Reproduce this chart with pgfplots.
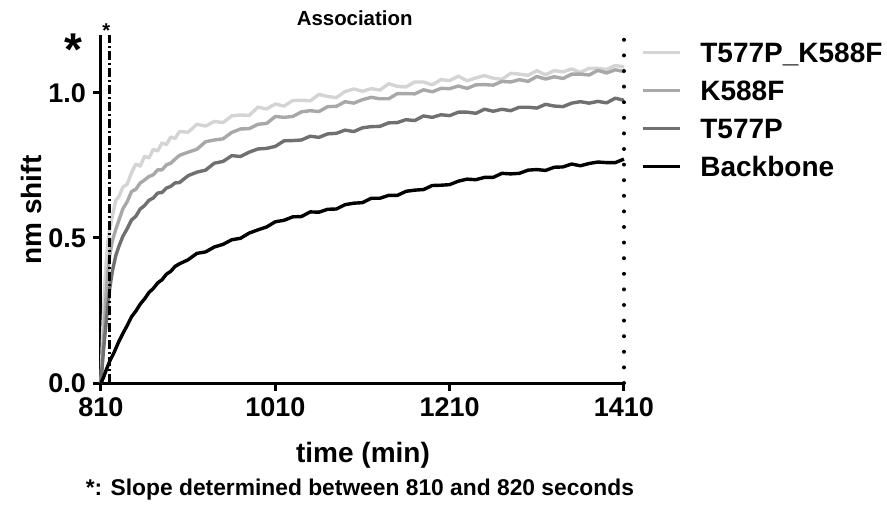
\documentclass[border=0pt]{standalone}
\usepackage{fontspec}
\setmainfont{Liberation Sans}
\usepackage{pgfplots}
\pgfplotsset{compat=1.18}
\definecolor{cTK}{gray}{0.83}
\definecolor{cK}{gray}{0.66}
\definecolor{cT}{gray}{0.44}

\begin{document}
\begin{tikzpicture}
\begin{axis}[
    name=ax,
    scale only axis,
    width=261.5pt, height=174pt,
    xmin=810, xmax=1410, ymin=0, ymax=1.2,
    axis x line=bottom, axis y line=left,
    axis line style={line width=1.5pt, -},
    xtick={810,1010,1210,1410},
    ytick={0,0.5,1.0},
    tick align=outside, major tick length=4pt,
    tick style={line width=1.5pt, black},
    /pgf/number format/assume math mode=true,
    xticklabel style={font=\bfseries\fontsize{13.5}{13.5}\selectfont},
    yticklabel style={font=\bfseries\fontsize{13.5}{13.5}\selectfont,
        /pgf/number format/fixed, /pgf/number format/fixed zerofill,
        /pgf/number format/precision=1},
    scaled y ticks=false,
    xticklabel={\pgfmathprintnumber[1000 sep={}]{\tick}},
    xlabel={time (min)}, ylabel={nm shift},
    xlabel style={font=\bfseries\fontsize{14}{14}\selectfont, at={(axis description cs:0.501,-0.207)}, anchor=center},
    ylabel style={font=\bfseries\fontsize{14}{14}\selectfont, at={(axis description cs:-0.132,0.497)}, anchor=center, rotate=0},
    clip=false,
    legend style={draw=none, fill=none, at={(axis description cs:1.021,0.99)}, anchor=north west,
        font=\bfseries\fontsize{14}{14}\selectfont, row sep=9pt, column sep=9.5pt,
        nodes={inner sep=0pt, text height=10pt, text depth=0pt}},
    legend cell align=left,
    legend image code/.code={\draw[#1, line width=1.5pt] (0pt,0pt) -- (18.5pt,0pt);},
    every axis plot/.append style={line width=1.7pt, line join=round},
]
% T577P_K588F
\addplot[cTK] coordinates {
(810,0) (812,0.18) (814,0.32) (816,0.42) (818,0.49) (820,0.53) (823,0.575) (827,0.63)
(831,0.645) (835,0.675) (840,0.685) (845,0.725) (850,0.755) (855,0.748) (860,0.782)
(865,0.776) (870,0.806) (875,0.80) (880,0.828) (885,0.822) (890,0.848) (895,0.843)
(900,0.867) (910,0.865) (920,0.892) (930,0.886) (940,0.902) (950,0.898) (960,0.921)
(970,0.924) (980,0.923) (990,0.951) (1000,0.945) (1010,0.962) (1020,0.955) (1030,0.974)
(1040,0.975) (1050,0.973) (1060,0.995) (1070,0.988) (1080,0.984) (1090,1.005) (1100,1.014)
(1110,1.006) (1120,1.015) (1130,1.010) (1140,1.032) (1150,1.023) (1160,1.021) (1170,1.038)
(1180,1.038) (1190,1.028) (1200,1.046) (1210,1.043) (1220,1.058) (1230,1.042) (1240,1.052)
(1250,1.060) (1260,1.051) (1270,1.047) (1280,1.068) (1290,1.065) (1300,1.061) (1310,1.077)
(1320,1.063) (1330,1.077) (1340,1.073) (1350,1.083) (1360,1.071) (1370,1.085) (1380,1.085)
(1390,1.081) (1400,1.095) (1410,1.090)
};
\addlegendentry{T577P\_K588F}
% K588F
\addplot[cK] coordinates {
(810,0) (812,0.10) (814,0.20) (816,0.31) (818,0.39) (820,0.44) (823,0.49) (827,0.53)
(831,0.565) (835,0.60) (840,0.625) (845,0.66) (850,0.668) (855,0.69) (860,0.70)
(865,0.712) (870,0.718) (875,0.735) (880,0.735) (885,0.752) (890,0.758) (895,0.772)
(900,0.785) (910,0.796) (920,0.806) (930,0.832) (940,0.838) (950,0.842) (960,0.864)
(970,0.876) (980,0.877) (990,0.892) (1000,0.895) (1010,0.919) (1020,0.916) (1030,0.919)
(1040,0.935) (1050,0.939) (1060,0.936) (1070,0.953) (1080,0.954) (1090,0.970) (1100,0.965)
(1110,0.977) (1120,0.985) (1130,0.980) (1140,0.980) (1150,0.998) (1160,0.998) (1170,0.997)
(1180,1.011) (1190,1.004) (1200,1.016) (1210,1.015) (1220,1.024) (1230,1.016) (1240,1.028)
(1250,1.029) (1260,1.027) (1270,1.040) (1280,1.038) (1290,1.046) (1300,1.040) (1310,1.057)
(1320,1.048) (1330,1.056) (1340,1.050) (1350,1.065) (1360,1.065) (1370,1.062) (1380,1.078)
(1390,1.069) (1400,1.080) (1410,1.074)
};
\addlegendentry{K588F}
% T577P
\addplot[cT] coordinates {
(810,0) (812,0.08) (814,0.15) (816,0.21) (818,0.275) (820,0.325) (823,0.385) (827,0.44)
(831,0.475) (835,0.505) (840,0.532) (845,0.562) (850,0.575) (855,0.60) (860,0.612)
(865,0.63) (870,0.638) (875,0.655) (880,0.657) (885,0.672) (890,0.678) (895,0.69)
(900,0.691) (910,0.715) (920,0.727) (930,0.734) (940,0.758) (950,0.764) (960,0.784)
(970,0.781) (980,0.796) (990,0.807) (1000,0.809) (1010,0.816) (1020,0.835) (1030,0.836)
(1040,0.838) (1050,0.851) (1060,0.847) (1070,0.859) (1080,0.861) (1090,0.872) (1100,0.867)
(1110,0.880) (1120,0.884) (1130,0.885) (1140,0.897) (1150,0.898) (1160,0.908) (1170,0.905)
(1180,0.921) (1190,0.916) (1200,0.925) (1210,0.922) (1220,0.934) (1230,0.934) (1240,0.930)
(1250,0.944) (1260,0.937) (1270,0.944) (1280,0.939) (1290,0.951) (1300,0.951) (1310,0.948)
(1320,0.961) (1330,0.955) (1340,0.953) (1350,0.965) (1360,0.970) (1370,0.965) (1380,0.971)
(1390,0.966) (1400,0.982) (1410,0.975)
};
\addlegendentry{T577P}
% Backbone
\addplot[black] coordinates {
(810,0) (813,0.02) (816,0.045) (820,0.075) (825,0.105) (830,0.14) (835,0.17) (840,0.198)
(845,0.228) (850,0.248) (855,0.272) (860,0.29) (865,0.312) (870,0.326) (875,0.345)
(880,0.356) (885,0.375) (890,0.385) (895,0.402)
(900,0.411) (910,0.425) (920,0.447) (930,0.452) (940,0.469) (950,0.478) (960,0.494)
(970,0.499) (980,0.517) (990,0.528) (1000,0.538) (1010,0.556) (1020,0.561) (1030,0.573)
(1040,0.574) (1050,0.590) (1060,0.589) (1070,0.599) (1080,0.600) (1090,0.615) (1100,0.620)
(1110,0.622) (1120,0.637) (1130,0.637) (1140,0.647) (1150,0.647) (1160,0.661) (1170,0.665)
(1180,0.667) (1190,0.681) (1200,0.682) (1210,0.684) (1220,0.696) (1230,0.703) (1240,0.701)
(1250,0.709) (1260,0.709) (1270,0.723) (1280,0.721) (1290,0.723) (1300,0.734) (1310,0.736)
(1320,0.733) (1330,0.744) (1340,0.745) (1350,0.755) (1360,0.749) (1370,0.757) (1380,0.762)
(1390,0.760) (1400,0.760) (1410,0.772)
};
\addlegendentry{Backbone}
% reference lines
\addplot[black, line width=1.6pt, dash pattern=on 4.5pt off 1.5pt on 1pt off 1.5pt, forget plot]
  coordinates {(820,0) (820,1.2)};
\addplot[black, line width=2pt, line cap=round, dash pattern=on 0pt off 7.8pt, forget plot]
  coordinates {(1410,0) (1410,1.2)};
\node[font=\bfseries\fontsize{10.2}{10.2}\selectfont] at (axis cs:1101,1.259) {Association};
\node[font=\bfseries\fontsize{23}{23}\selectfont] at (axis cs:778,1.15) {*};
\node[font=\bfseries\fontsize{10}{10}\selectfont] at (axis cs:816,1.215) {*};
\node[font=\bfseries\fontsize{11.4}{11.4}\selectfont] at (axis description cs:0.495,-0.307)
  {*: Slope determined between 810 and 820 seconds};
\end{axis}
\pgfresetboundingbox
\path[use as bounding box] ([shift={(-50.5pt,-62.5pt)}]ax.south west) rectangle ([shift={(393pt,191.5pt)}]ax.south west);
\end{tikzpicture}
\end{document}
